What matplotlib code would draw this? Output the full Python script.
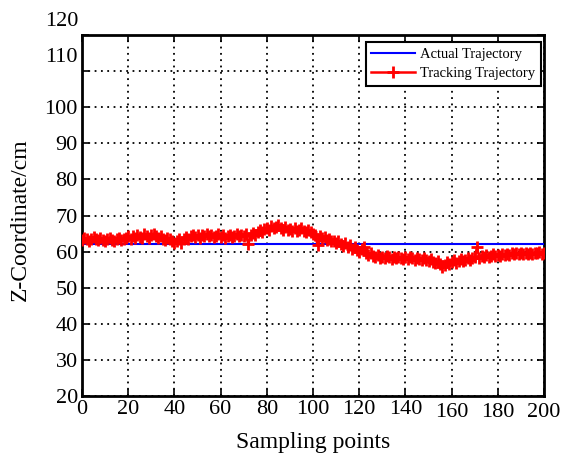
import numpy as np
import matplotlib
matplotlib.use("Agg")
import matplotlib.pyplot as plt
import matplotlib.transforms as mtransforms

plt.rcParams['font.family'] = ['Liberation Serif', 'DejaVu Serif']
plt.rcParams['mathtext.fontset'] = 'stix'

sampling_points = list(range(0, 201))
actual_value = 62.2
actual = [actual_value] * len(sampling_points)
tracking = [
    63.2, 63.8, 63.5, 63.0, 63.6, 64.0, 63.4, 63.1, 63.7, 63.3,
    63.0, 63.5, 63.9, 63.2, 62.9, 63.4, 63.8, 63.1, 63.5, 63.9,
    64.2, 63.6, 64.4, 63.9, 64.6, 64.1, 63.7, 64.8, 64.3, 63.9,
    64.5, 65.0, 64.2, 63.8, 64.4, 63.6, 63.2, 63.9, 63.5, 62.8,
    62.3, 63.0, 63.6, 62.5, 63.4, 64.0, 63.5, 64.2, 64.6, 64.1,
    64.5, 63.9, 64.7, 64.3, 64.9, 64.2, 64.6, 64.0, 64.4, 64.8,
    64.1, 64.5, 63.8, 64.3, 64.7, 64.0, 64.4, 64.9, 64.2, 64.6,
    64.3, 64.8, 62.0, 64.5, 65.2, 64.7, 65.5, 65.9, 65.3, 66.2,
    66.6, 66.0, 67.0, 66.4, 66.8, 67.3, 66.5, 66.1, 66.7, 65.9,
    66.3, 65.8, 66.5, 65.6, 66.0, 66.6, 65.7, 65.4, 66.1, 65.5,
    65.0, 64.6, 61.8, 64.2, 63.8, 64.0, 63.2, 63.6, 62.8, 63.0,
    62.4, 62.9, 62.0, 61.6, 62.3, 61.2, 61.8, 60.8, 61.4, 60.5,
    59.8, 60.6, 61.2, 59.5, 59.0, 59.6, 58.8, 58.5, 59.1, 58.3,
    58.6, 58.2, 58.8, 58.4, 58.0, 58.5, 58.1, 58.6, 58.3, 57.9,
    58.4, 58.0, 58.5, 58.1, 57.8, 58.3, 58.0, 57.6, 58.1, 57.7,
    57.4, 57.9, 57.2, 56.8, 57.3, 56.5, 55.8, 56.3, 57.0, 56.6,
    57.2, 57.6, 56.9, 57.5, 58.0, 57.4, 57.8, 58.3, 57.6, 58.1,
    58.5, 61.2, 58.3, 58.8, 58.4, 59.0, 58.6, 58.9, 59.2, 58.7,
    59.1, 58.8, 59.3, 59.0, 59.4, 59.1, 59.5, 59.2, 59.6, 59.3,
    59.5, 59.2, 59.7, 59.4, 59.6, 59.3, 59.7, 59.5, 59.8, 59.4,
    59.6,
]
x_ticks = [0, 20, 40, 60, 80, 100, 120, 140, 160, 180, 200]
y_ticks = [20, 30, 40, 50, 60, 70, 80, 90, 100, 110, 120]

fig = plt.figure(figsize=(5.68, 4.58), dpi=100)
ax = fig.add_axes([82/568, 1-396/458, (544-82)/568, (396-35)/458])

ax.plot(sampling_points, actual, color='blue', lw=1.5, label='Actual Trajectory', zorder=3)
ax.plot(sampling_points, tracking, color='red', lw=1.8, marker='+', markersize=9,
        markeredgewidth=2, label='Tracking Trajectory', zorder=4)

ax.set_xlim(0, 200)
ax.set_ylim(20, 120)
ax.set_xticks(x_ticks)
ax.set_yticks(y_ticks)
ax.set_xticklabels([str(v) for v in x_ticks], fontsize=16)
ax.set_yticklabels([str(v) if v <= 100 else '' for v in y_ticks], fontsize=16)
ax.tick_params(direction='in', top=True, right=True, length=5, width=1.2, pad=3)
ax.grid(True, color='black', linestyle=(0, (1, 2.5)), linewidth=1.3)
for s in ax.spines.values():
    s.set_linewidth(2)

# labels for 160, 180, 200 sit slightly lower in the reference
offset = mtransforms.ScaledTranslation(0, -3/100, fig.dpi_scale_trans)
for lab in ax.get_xticklabels()[8:]:
    lab.set_transform(lab.get_transform() + offset)

# displaced upper y labels
fig.text(78/568, 1-57/458, '110', ha='right', va='center', fontsize=16)
fig.text(78/568, 1-21/458, '120', ha='right', va='center', fontsize=16)

ax.set_xlabel('Sampling points', fontsize=17, labelpad=7)
ax.set_ylabel('Z-Coordinate/cm', fontsize=17, va='center')
ax.yaxis.set_label_coords((20 - 82) / 462, (396 - 220) / 361)

leg = ax.legend(loc='upper right', bbox_to_anchor=(0.994, 0.98), borderaxespad=0,
                fontsize=10.5, fancybox=False, edgecolor='black', framealpha=1,
                handlelength=3.0, handletextpad=0.35, borderpad=0.4, labelspacing=0.4)
leg.get_frame().set_linewidth(1.5)
for h in leg.legend_handles:
    h.set_markersize(8)

fig.savefig('out.png', dpi=100)
